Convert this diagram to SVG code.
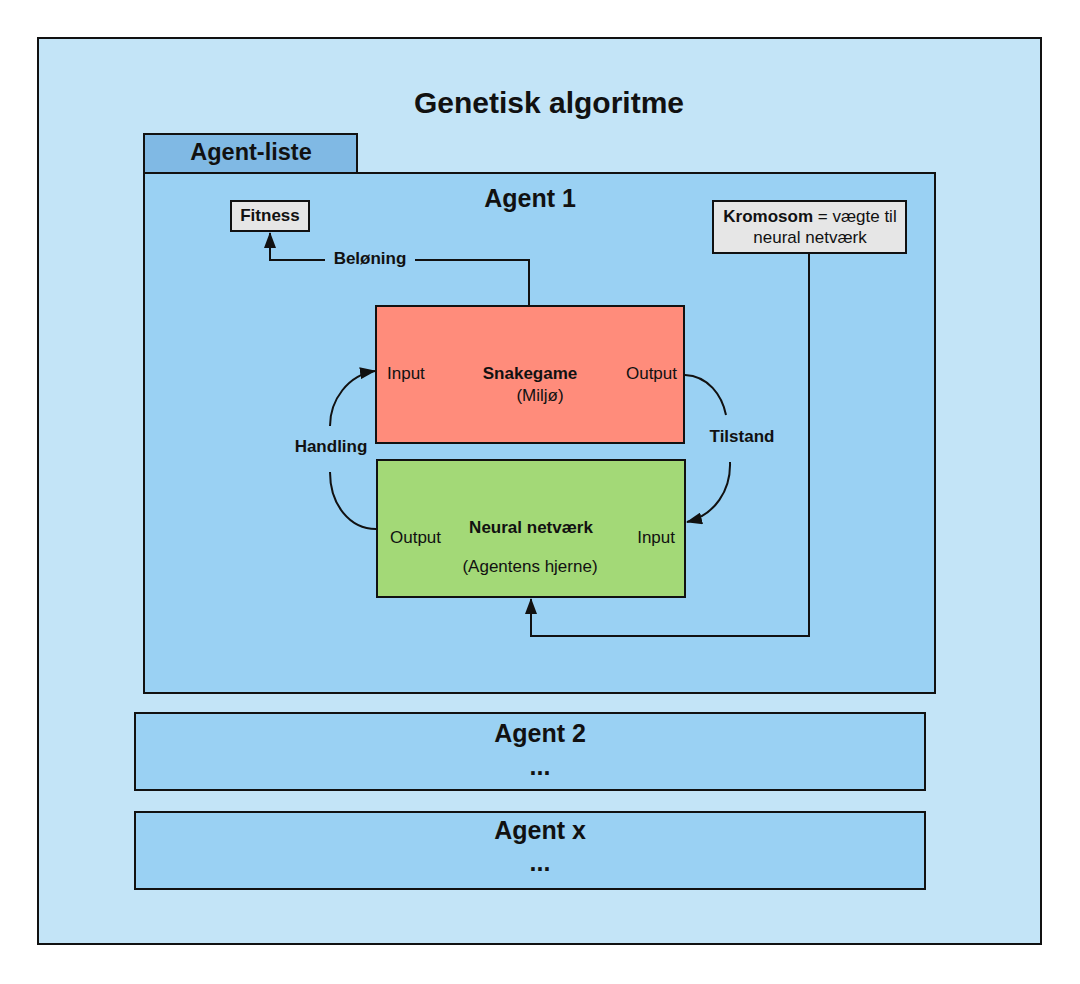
<svg xmlns="http://www.w3.org/2000/svg" width="1080" height="984" viewBox="0 0 1080 984">
<style>
text{font-family:"Liberation Sans",Arial,sans-serif;fill:#111}
.b{font-weight:bold}
.s{font-size:17px}
.box{stroke:#111;stroke-width:2}
.ln{fill:none;stroke:#111;stroke-width:2}
</style>
<defs>
<marker id="ah2" viewBox="0 0 16 12" refX="15" refY="6" markerWidth="16" markerHeight="12" orient="auto" markerUnits="userSpaceOnUse">
<path d="M0,0 L16,6 L0,12 Z" fill="#111"/>
</marker>
</defs>
<rect width="1080" height="984" fill="#fff"/>
<g id="frame">
<rect class="box" x="38" y="38" width="1003" height="906" fill="#C3E4F7"/>
<text class="b" x="549" y="113" font-size="30" text-anchor="middle">Genetisk algoritme</text>
</g>
<g id="agent-liste">
<rect class="box" x="144" y="134" width="213" height="39" fill="#80B9E4"/>
<text class="b" x="251" y="160" font-size="23.5" text-anchor="middle">Agent-liste</text>
</g>
<g id="agent1">
<rect class="box" x="144" y="173" width="791" height="520" fill="#9AD1F3"/>
<text class="b" x="530" y="207" font-size="25" text-anchor="middle">Agent 1</text>
</g>
<g id="fitness">
<rect class="box" x="231" y="201" width="78" height="30" fill="#E6E6E6"/>
<text class="b s" x="270" y="221" text-anchor="middle">Fitness</text>
</g>
<g id="kromosom">
<rect class="box" x="713" y="201" width="193" height="52" fill="#E6E6E6"/>
<text class="s" x="810" y="222" text-anchor="middle"><tspan font-weight="bold">Kromosom</tspan> = vægte til</text>
<text class="s" x="810" y="243" text-anchor="middle">neural netværk</text>
</g>
<g id="snakegame">
<rect class="box" x="376" y="306" width="308" height="137" fill="#FF8C7B"/>
<text class="s" x="387" y="379">Input</text>
<text class="b s" x="530" y="379" text-anchor="middle">Snakegame</text>
<text class="s" x="540" y="401" text-anchor="middle">(Miljø)</text>
<text class="s" x="677" y="379" text-anchor="end">Output</text>
</g>
<g id="neural">
<rect class="box" x="377" y="460" width="308" height="137" fill="#A3D977"/>
<text class="s" x="390" y="543">Output</text>
<text class="b s" x="531" y="533" text-anchor="middle">Neural netværk</text>
<text class="s" x="530" y="572" text-anchor="middle">(Agentens hjerne)</text>
<text class="s" x="675" y="543" text-anchor="end">Input</text>
</g>
<g id="connectors">
<path class="ln" d="M529,306 V260 H415"/>
<path class="ln" d="M325,260 H270 V233" marker-end="url(#ah2)"/>
<text class="b s" x="370" y="264" text-anchor="middle">Beløning</text>
<path class="ln" d="M809,253 V636 H531 V599" marker-end="url(#ah2)"/>
<path class="ln" d="M376,529 C350,529 330,505 330,472"/>
<path class="ln" d="M330,426 C330,400 348,375 375,371" marker-end="url(#ah2)"/>
<text class="b s" x="331" y="452" text-anchor="middle">Handling</text>
<path class="ln" d="M685,375 C708,376 722,395 726,415"/>
<path class="ln" d="M730,462 C731,490 715,515 687,522" marker-end="url(#ah2)"/>
<text class="b s" x="742" y="442" text-anchor="middle">Tilstand</text>
</g>
<g id="agent2">
<rect class="box" x="135" y="713" width="790" height="77" fill="#9AD1F3"/>
<text class="b" x="540" y="742" font-size="25" text-anchor="middle">Agent 2</text>
<text class="b" x="540" y="775" font-size="25" text-anchor="middle">...</text>
</g>
<g id="agentx">
<rect class="box" x="135" y="812" width="790" height="77" fill="#9AD1F3"/>
<text class="b" x="540" y="839" font-size="25" text-anchor="middle">Agent x</text>
<text class="b" x="540" y="871" font-size="25" text-anchor="middle">...</text>
</g>
</svg>
